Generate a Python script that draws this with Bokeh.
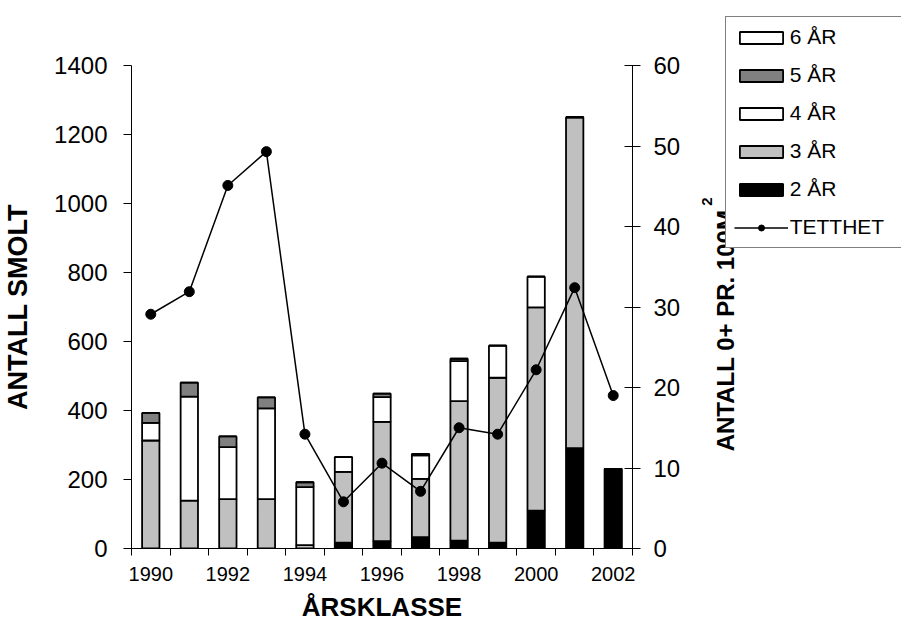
import math
from bokeh.plotting import figure
from bokeh.models import (Range1d, LinearAxis, FixedTicker, Legend, LegendItem,
                          Label, ColumnDataSource)
from bokeh.embed import file_html
from bokeh.resources import INLINE

# ---- data ----
years = [1990, 1991, 1992, 1993, 1994, 1995, 1996, 1997, 1998, 1999, 2000, 2001, 2002]
ar2 = [0, 0, 0, 0, 0, 17, 21, 33, 23, 17, 110, 291, 231]
ar3 = [313, 139, 143, 143, 10, 205, 346, 169, 404, 478, 589, 959, 0]
ar4 = [51, 301, 151, 263, 168, 43, 72, 68, 116, 93, 89, 0, 0]
ar5 = [29, 41, 31, 32, 14, 0, 10, 4, 7, 0, 0, 0, 0]
ar6 = [0, 0, 0, 0, 0, 0, 0, 0, 0, 0, 0, 0, 0]
tetthet = [29.1, 31.9, 45.1, 49.3, 14.2, 5.8, 10.6, 7.1, 15.0, 14.2, 22.2, 32.4, 19.0]
left_ticks = [0, 200, 400, 600, 800, 1000, 1200, 1400]
right_ticks = [0, 10, 20, 30, 40, 50, 60]
label_years = [1990, 1992, 1994, 1996, 1998, 2000, 2002]
series_names = ["6 ÅR", "5 ÅR", "4 ÅR", "3 ÅR", "2 ÅR"]
line_name = "TETTHET"
left_title = "ANTALL SMOLT"
right_title = "ANTALL 0+ PR. 100M"
right_title_sup = "2"
bottom_title = "ÅRSKLASSE"

FONT = "Liberation Sans"
H = 635

src = ColumnDataSource(dict(year=years, a2=ar2, a3=ar3, a4=ar4, a5=ar5, a6=ar6, tett=tetthet))
stack_cols = ["a2", "a3", "a4", "a5", "a6"]
colors = ["black", "#c0c0c0", "white", "#808080", "white"]

FW, FH = 501, 483
LEFT, TOP = 127, 65
RIGHT = 893 - LEFT - FW
x0, x1 = years[0] - 0.5, years[-1] + 0.5
p = figure(frame_width=FW, frame_height=FH, title=None,
           x_range=Range1d(x0, x1), y_range=Range1d(0, 1400),
           output_backend="svg", toolbar_location=None,
           min_border_left=LEFT, min_border_right=RIGHT,
           min_border_top=TOP, min_border_bottom=H - TOP - FH)
p.extra_y_ranges = {"right": Range1d(0, 60)}
p.outline_line_color = None
p.xgrid.visible = False
p.ygrid.visible = False

bars = p.vbar_stack(stack_cols, x="year", width=0.45, source=src,
                    fill_color=colors, line_color="black", line_width=1.8)
ln = p.line("year", "tett", source=src, y_range_name="right",
            line_color="black", line_width=1.5)
sc = p.scatter("year", "tett", source=src, y_range_name="right",
               size=10, fill_color="black", line_color="black")

# left axis
ya = p.yaxis[0]
ya.ticker = FixedTicker(ticks=left_ticks)
ya.major_tick_out = 8
ya.major_tick_in = 0
ya.minor_tick_out = 0
ya.minor_tick_in = 0
ya.major_label_standoff = 16
ya.major_label_text_font = FONT
ya.major_label_text_font_size = "24px"
ya.major_label_text_color = "black"
ya.axis_line_color = "black"
ya.major_tick_line_color = "black"
ya.axis_label = left_title
ya.axis_label_text_font = FONT
ya.axis_label_text_font_size = "27px"
ya.axis_label_text_font_style = "bold"
ya.axis_label_text_color = "black"
ya.axis_label_standoff = 18

# bottom axis
xa = p.xaxis[0]
xa.ticker = FixedTicker(ticks=label_years,
                        minor_ticks=[y - 0.5 for y in years] + [years[-1] + 0.5])
xa.major_tick_line_color = None
xa.major_tick_out = 7
xa.major_tick_in = 0
xa.minor_tick_out = 7
xa.minor_tick_in = 0
xa.minor_tick_line_color = "black"
xa.axis_line_color = "black"
xa.major_label_standoff = 11
xa.major_label_text_font = FONT
xa.major_label_text_font_size = "20px"
xa.major_label_text_color = "black"
xa.axis_label = bottom_title
xa.axis_label_text_font = FONT
xa.axis_label_text_font_size = "26px"
xa.axis_label_text_font_style = "bold"
xa.axis_label_text_color = "black"
xa.axis_label_standoff = 8

# right axis
ra = LinearAxis(y_range_name="right", ticker=FixedTicker(ticks=right_ticks))
ra.major_tick_out = 8
ra.major_tick_in = 8
ra.minor_tick_out = 0
ra.minor_tick_in = 0
ra.major_label_standoff = 13
ra.major_label_text_font = FONT
ra.major_label_text_font_size = "24px"
ra.major_label_text_color = "black"
ra.axis_line_color = "black"
ra.major_tick_line_color = "black"
p.add_layout(ra, "right")

xpx = (x1 - x0) / FW          # data units per pixel, x
rpx = 60 / FH                 # right-axis units per pixel

# superscript of the right title (small, fits in the top border)
sup = Label(x=x0 + (710 - 8 - LEFT) * xpx, y=(TOP + FH - 201) * rpx,
            y_range_name="right", text=right_title_sup, angle=math.pi / 2,
            text_align="center", text_baseline="middle",
            text_font=FONT, text_font_size="15px", text_font_style="bold",
            text_color="black")
p.add_layout(sup, "above")

# right-axis title (reads bottom to top)
title_r = Label(x=x0 + (729 - 8 - LEFT) * xpx, y=(TOP + FH - 330) * rpx,
                y_range_name="right", text=right_title, angle=math.pi / 2,
                text_align="center", text_baseline="middle",
                text_font=FONT, text_font_size="24px", text_font_style="bold",
                text_color="black")

# legend in the right border, painted over the title (as in the original)
items = [LegendItem(label=series_names[0], renderers=[bars[4]]),
         LegendItem(label=series_names[1], renderers=[bars[3]]),
         LegendItem(label=series_names[2], renderers=[bars[2]]),
         LegendItem(label=series_names[3], renderers=[bars[1]]),
         LegendItem(label=series_names[4], renderers=[bars[0]]),
         LegendItem(label=line_name, renderers=[ln, sc])]
leg = Legend(items=items, location=(-107, 300), level="overlay",
             glyph_width=54, glyph_height=15, label_standoff=2, label_width=130,
             padding=8, spacing=14, margin=0,
             label_text_font=FONT, label_text_font_size="21px", label_text_color="black",
             border_line_color="black", border_line_width=1,
             background_fill_color="white", background_fill_alpha=1.0)

p.add_layout(leg, "right")
p.add_layout(title_r, "right")
p.right = [ra, leg, title_r]

open("out.html", "w").write(file_html(p, INLINE))
